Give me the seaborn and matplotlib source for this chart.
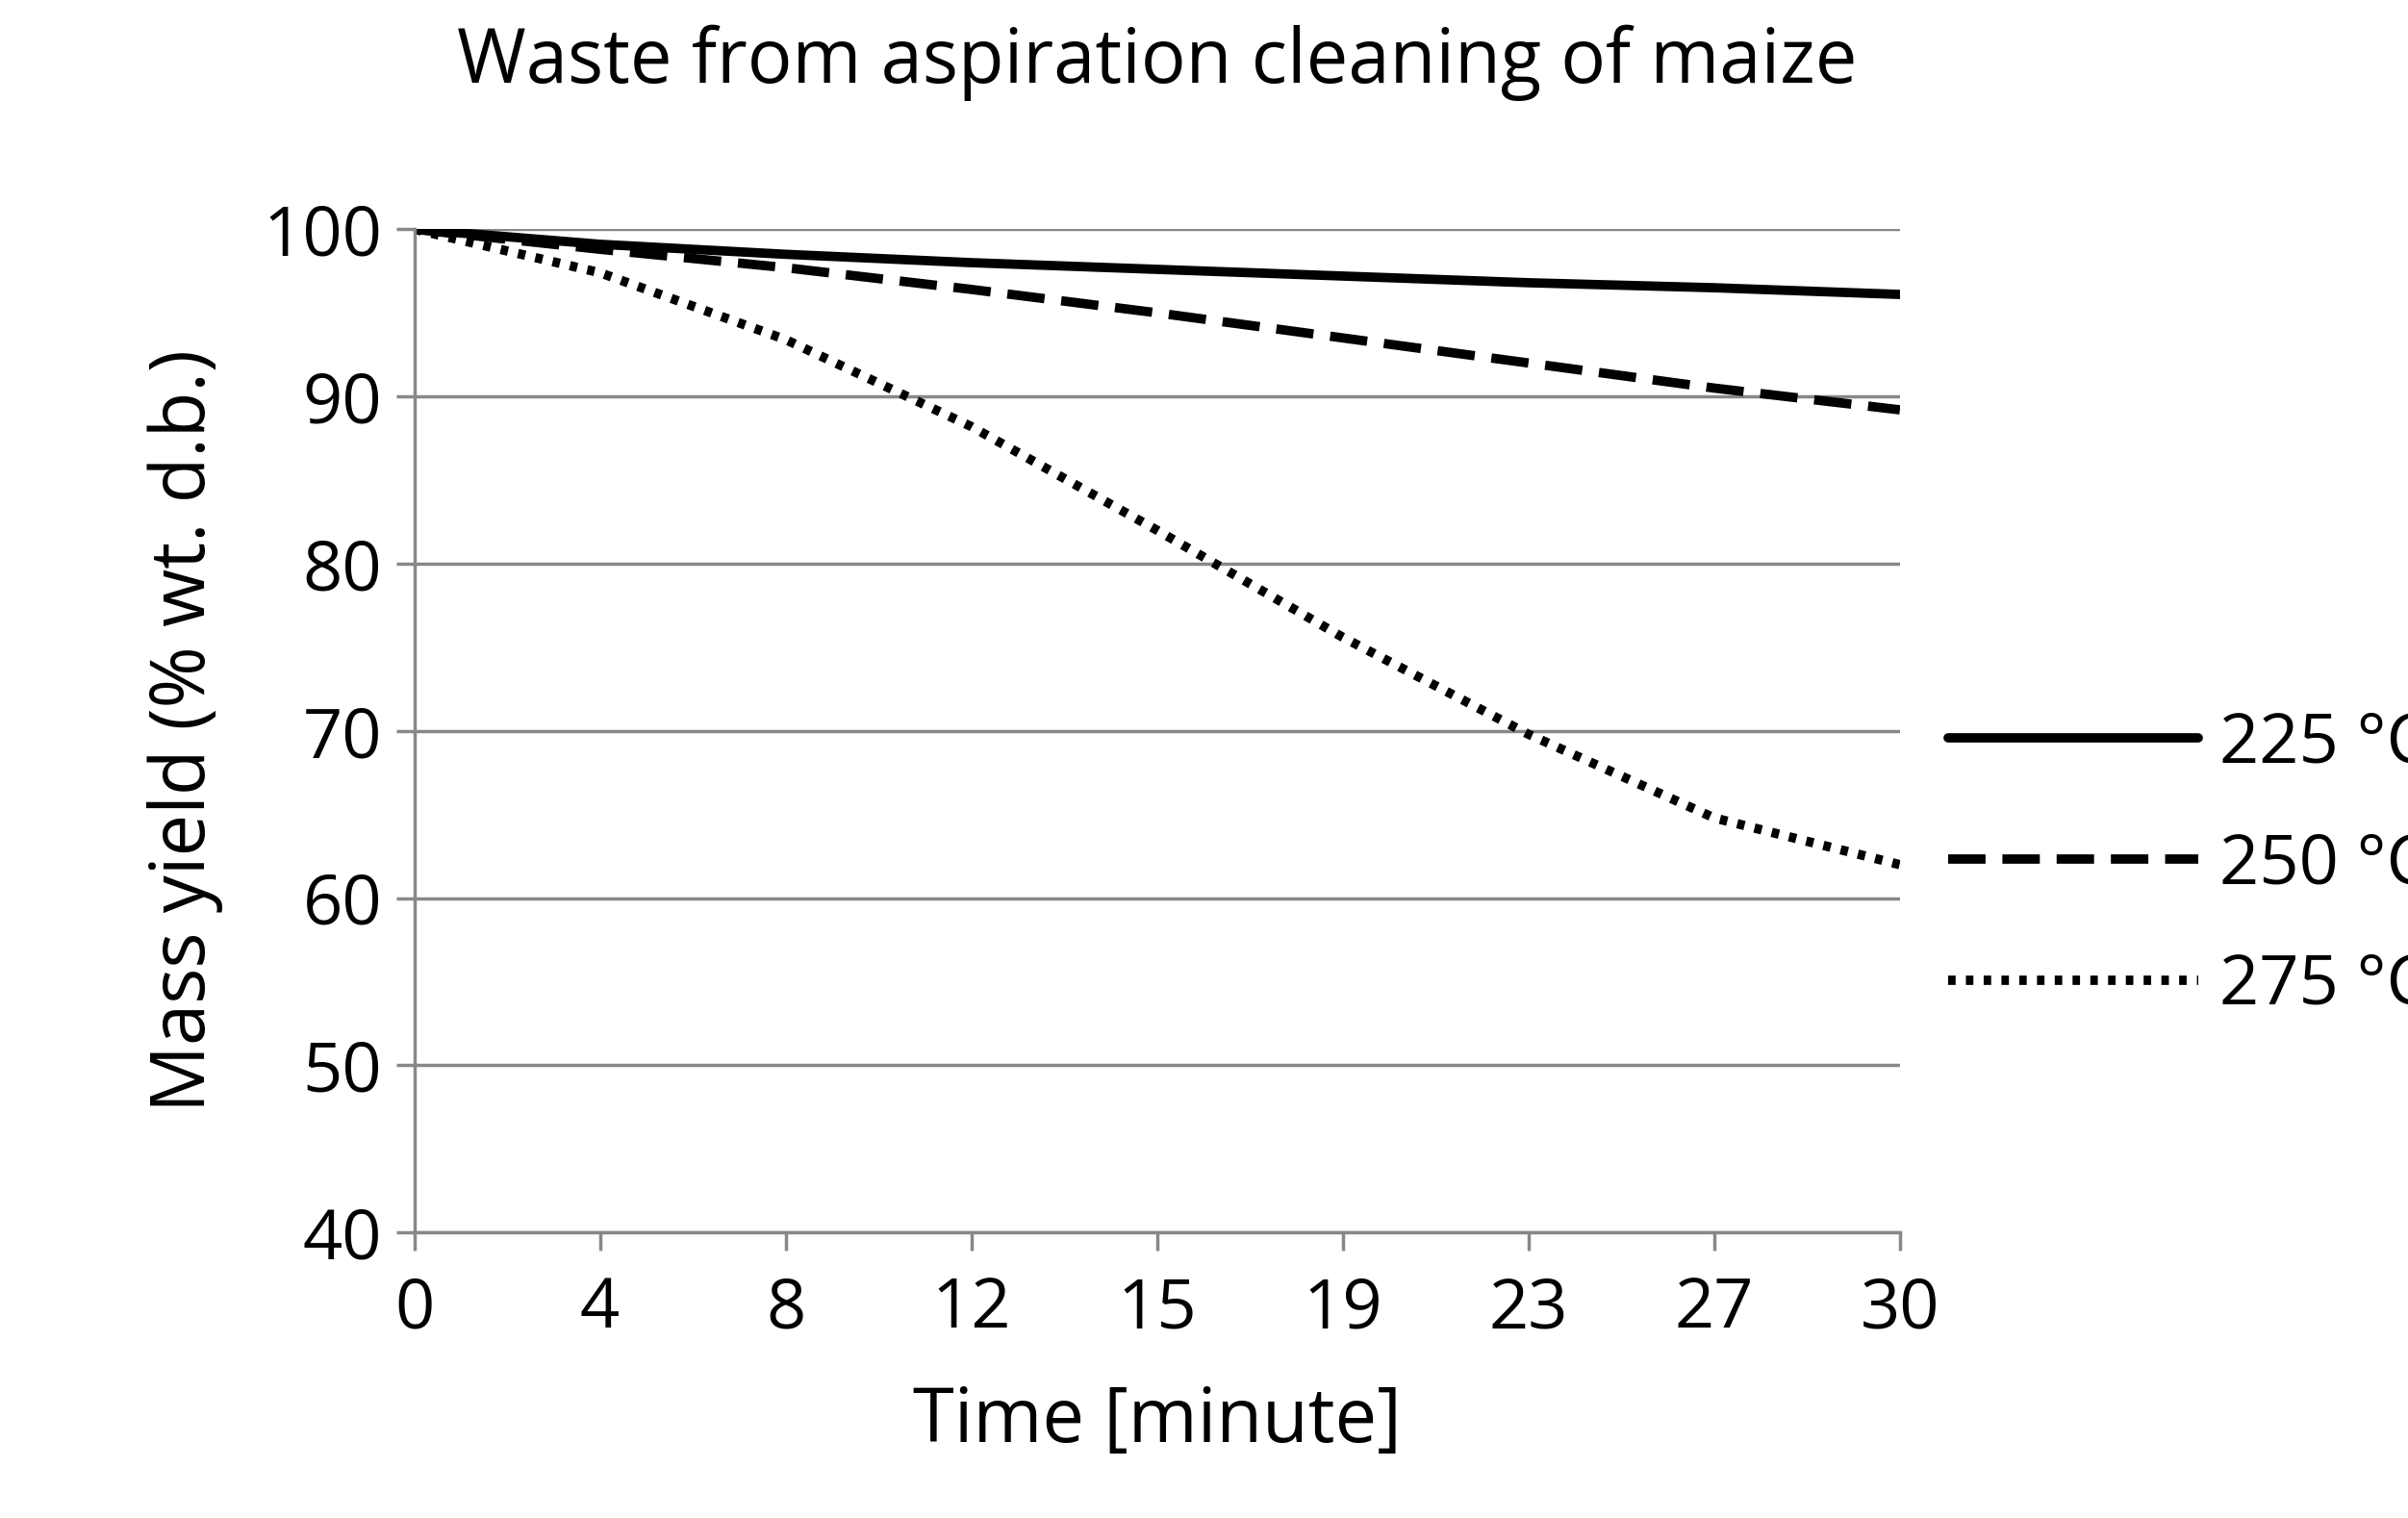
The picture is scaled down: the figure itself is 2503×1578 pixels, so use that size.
import matplotlib
matplotlib.use("Agg")
import matplotlib.pyplot as plt
import seaborn as sns
import pandas as pd
import numpy as np

sns.set_style("white")
plt.rcParams['font.family'] = ['Open Sans', 'DejaVu Sans']
plt.rcParams['text.color'] = 'black'
plt.rcParams['axes.labelcolor'] = 'black'

time_labels = ["0", "4", "8", "12", "15", "19", "23", "27", "30"]
y225 = [100, 99.1, 98.5, 98.0, 97.6, 97.2, 96.8, 96.5, 96.1]
y250 = [100, 98.8, 97.7, 96.4, 95.0, 93.5, 92.0, 90.5, 89.2]
y275 = [100, 97.4, 93.4, 88.2, 82.0, 75.6, 69.8, 64.8, 62.0]
series = ["225 °C", "250 °C", "275 °C"]

pos = np.arange(len(time_labels))
df = pd.concat([pd.DataFrame({"x": pos, "y": v, "s": s}) for v, s in zip([y225, y250, y275], series)])

fig = plt.figure(figsize=(25.03, 15.78), dpi=100)
ax = fig.add_axes([0.172, 0.188, 0.617, 0.661])
sns.lineplot(data=df, x="x", y="y", hue="s", style="s",
             palette=["black"] * 3, linewidth=7, ax=ax, legend=False)
for line, d in zip(ax.get_lines(), ["-", (0, (4, 1.8)), (0, (0.8, 1.1))]):
    line.set_linestyle(d)

ax.set_xlim(0, len(time_labels) - 1)
ax.set_ylim(40, 100)
ax.set_yticks(range(40, 101, 10))
ax.set_xticks(pos)
ax.set_xticklabels(time_labels)
ax.tick_params(axis="both", labelsize=52, labelcolor="black", bottom=True, left=True)
ax.tick_params(axis="x", length=14, width=2.5, color="#888888", direction="out", pad=18)
ax.tick_params(axis="y", length=14, width=2.5, color="#888888", direction="out", pad=10)
ax.grid(axis="y", color="#888888", linewidth=2.5)
for sp in ["top", "right"]:
    ax.spines[sp].set_visible(False)
for sp in ["left", "bottom"]:
    ax.spines[sp].set_color("#888888")
    ax.spines[sp].set_linewidth(2.5)

ax.set_xlabel("Time [minute]", fontsize=56, labelpad=30)
ax.set_ylabel("Mass yield (% wt. d.b.)", fontsize=56, labelpad=30)
ax.set_title("Waste from aspiration cleaning of maize", fontsize=56, pad=110)

handles = ax.get_lines()
fig.legend(handles, series, loc="center left", bbox_to_anchor=(0.783, 0.43),
           frameon=False, fontsize=52, handlelength=3.6, labelspacing=0.75, handletextpad=0.3)

fig.savefig("out.png", dpi=100)
